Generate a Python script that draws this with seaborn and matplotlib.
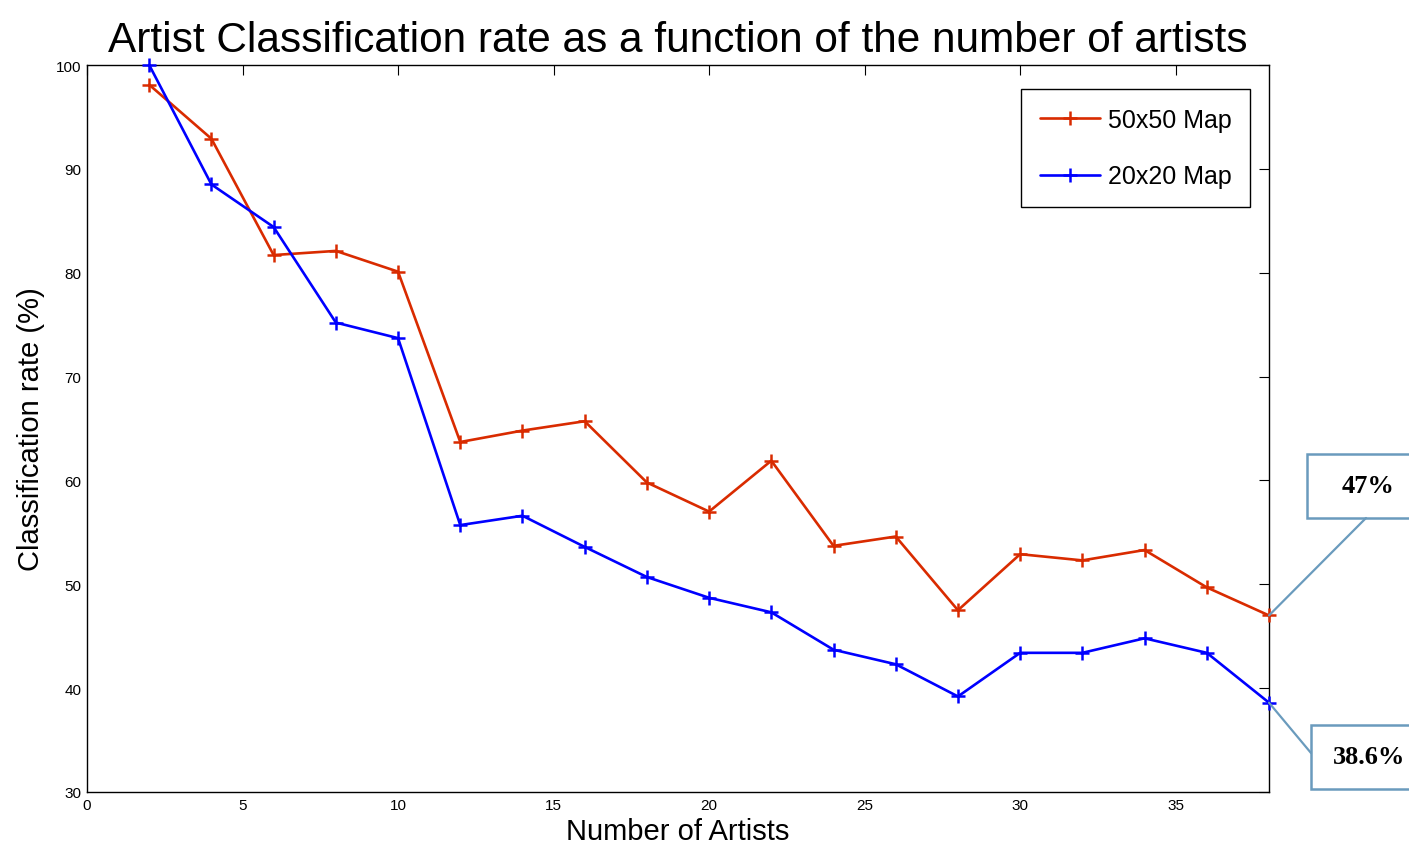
import matplotlib
matplotlib.use("Agg")
import matplotlib.pyplot as plt
import seaborn as sns
import numpy as np
import pandas as pd
from matplotlib.patches import Rectangle
from matplotlib.lines import Line2D

n_artists = [2, 4, 6, 8, 10, 12, 14, 16, 18, 20, 22, 24, 26, 28, 30, 32, 34, 36, 38]
rate_50x50 = [98.1, 92.9, 81.7, 82.1, 80.1, 63.7, 64.8, 65.7, 59.8, 57.0, 61.9,
              53.7, 54.6, 47.5, 52.9, 52.3, 53.3, 49.7, 47.0]
rate_20x20 = [100.0, 88.5, 84.4, 75.2, 73.7, 55.7, 56.6, 53.6, 50.7, 48.7, 47.3,
              43.7, 42.3, 39.2, 43.4, 43.4, 44.8, 43.4, 38.6]
series_names = ["50x50 Map", "20x20 Map"]
series_colors = ["#d92b00", "#0000ff"]
callout_texts = ["47%", "38.6%"]

sns.set_theme(style="white")
plt.rcParams["font.family"] = ["Liberation Sans", "DejaVu Sans"]
plt.rcParams["text.color"] = "black"
plt.rcParams["axes.labelcolor"] = "black"

fig = plt.figure(figsize=(14.09, 8.54), dpi=100)
ax = fig.add_axes([87/1409, 1-793/854, (1269-87)/1409, (793-66)/854])

for vals, name, col in zip([rate_50x50, rate_20x20], series_names, series_colors):
    sns.lineplot(x=n_artists, y=vals, ax=ax, color=col, label=name, linewidth=1.9,
                 marker="+", markersize=10, markeredgewidth=1.8, markeredgecolor=col,
                 clip_on=False, zorder=3)

ax.set_xlim(0, 38)
ax.set_ylim(30, 100)
ax.set_xticks(np.arange(0, 36, 5))
ax.set_yticks(np.arange(30, 101, 10))
ax.tick_params(direction="in", length=7, width=0.8, top=True, right=True,
               labelsize=11, colors="black", pad=4)
for s in ax.spines.values():
    s.set_color("black")
    s.set_linewidth(1.0)

ax.set_xlabel("Number of Artists", fontsize=21, labelpad=4)
ax.set_ylabel("Classification rate (%)", fontsize=21, labelpad=8)
ax.set_title("Artist Classification rate as a function of the number of artists",
             fontsize=30.5, pad=10)

leg = ax.legend(loc="upper right", bbox_to_anchor=((1250-87)/1182, (793-90)/727),
                borderaxespad=0, fancybox=False, edgecolor="black", framealpha=1,
                fontsize=18, handlelength=2.4, labelspacing=1.3, borderpad=0.75,
                handletextpad=0.3)
leg.get_frame().set_linewidth(1.0)

# callouts
box_color = "#6a9bbd"
callouts = [
    (rate_50x50[-1], (1307, 455, 130, 64), (1366, 519), 1368),
    (rate_20x20[-1], (1311, 726, 130, 64), (1311, 754), 1369),
]
for (val, (bx, by, bw, bh), (lx, ly), cx), txt in zip(callouts, callout_texts):
    rect = Rectangle((bx, 854 - by - bh), bw, bh, transform=None, fill=True,
                     facecolor="white", edgecolor=box_color, linewidth=1.8,
                     clip_on=False)
    fig.add_artist(rect)
    fig.text(cx / 1409, 1 - (by + bh / 2) / 854, txt, ha="center", va="center",
             fontsize=19, fontweight="bold", family=["Liberation Serif", "DejaVu Serif"])
    px, py = ax.transData.transform((n_artists[-1], val))
    fig.add_artist(Line2D([px, lx], [py, 854 - ly], transform=None, color=box_color,
                          linewidth=1.6))

fig.savefig("out.png", dpi=100)
